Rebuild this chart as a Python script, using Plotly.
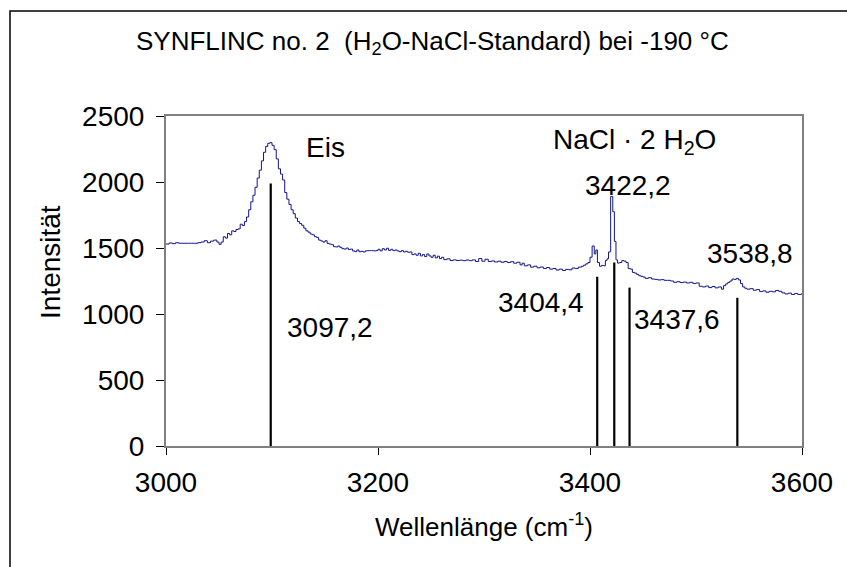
import plotly.graph_objects as go

# Spectrum (wavenumber cm^-1, intensity)
wavenumber = [3000, 3003, 3006, 3009, 3012, 3015, 3018, 3021, 3024, 3027, 3030, 3033,
              3036, 3039, 3042, 3045, 3048, 3050, 3052, 3054, 3056, 3058, 3060, 3062, 3064,
              3066, 3068, 3070, 3072, 3074, 3076, 3078, 3080, 3082, 3084, 3086, 3088, 3090,
              3092, 3094, 3096, 3098, 3100, 3102, 3104, 3106, 3108, 3110, 3112, 3114, 3116,
              3118, 3120, 3122, 3124, 3126, 3128, 3130, 3132, 3134, 3136, 3138, 3140, 3142,
              3144, 3146, 3148, 3150, 3152, 3154, 3156, 3158, 3160, 3162, 3164, 3166, 3168,
              3170, 3172, 3174, 3176, 3178, 3180, 3182, 3184, 3186, 3188, 3190, 3192, 3194,
              3196, 3198, 3200, 3202, 3204, 3206, 3208, 3210, 3212, 3214, 3216, 3218, 3220,
              3222, 3224, 3226, 3228, 3230, 3232, 3234, 3236, 3238, 3240, 3242, 3244, 3246,
              3248, 3250, 3252, 3254, 3256, 3258, 3260, 3262, 3265, 3268, 3271, 3274, 3277,
              3280, 3283, 3286, 3289, 3292, 3295, 3298, 3301, 3304, 3307, 3310, 3313, 3316,
              3319, 3322, 3325, 3328, 3331, 3334, 3336, 3338, 3341, 3344, 3347, 3350, 3353,
              3356, 3359, 3362, 3365, 3368, 3371, 3374, 3377, 3380, 3383, 3386, 3389, 3392,
              3394, 3396, 3398, 3400, 3402, 3404, 3405.5, 3407, 3409, 3411, 3413, 3414.5,
              3416, 3417.5, 3419.5, 3421.5, 3423, 3424.5, 3426, 3428, 3430, 3432, 3434,
              3436, 3438, 3440, 3442, 3444, 3446, 3448, 3450, 3452, 3455, 3458, 3461, 3464,
              3467, 3470, 3473, 3476, 3479, 3482, 3485, 3488, 3491, 3494, 3497, 3500, 3503,
              3506, 3509, 3512, 3515, 3518, 3521, 3524, 3526, 3528, 3530, 3532, 3534, 3536,
              3538, 3540, 3542, 3544, 3546, 3548, 3551, 3554, 3557, 3560, 3563, 3566, 3569,
              3572, 3575, 3578, 3581, 3584, 3587, 3590, 3593, 3596, 3599, 3600]
intensity = [1530, 1538, 1533, 1540, 1536, 1536, 1536, 1536, 1536, 1536, 1540, 1545,
             1555, 1540, 1552, 1560, 1545, 1528, 1545, 1585, 1575, 1610, 1600, 1630, 1625,
             1640, 1645, 1680, 1670, 1700, 1735, 1790, 1850, 1900, 1960, 2030, 2090, 2160,
             2225, 2270, 2293, 2298, 2278, 2245, 2175, 2100, 2060, 2015, 1920, 1870, 1830,
             1790, 1760, 1727, 1700, 1685, 1672, 1650, 1630, 1620, 1606, 1600, 1586, 1580,
             1560, 1553, 1545, 1555, 1535, 1530, 1525, 1510, 1508, 1515, 1505, 1495, 1492,
             1500, 1488, 1492, 1478, 1472, 1485, 1472, 1475, 1470, 1478, 1480, 1480, 1480,
             1478, 1480, 1490, 1478, 1495, 1485, 1498, 1482, 1490, 1480, 1485, 1478, 1472,
             1480, 1470, 1475, 1468, 1470, 1450, 1455, 1445, 1460, 1440, 1450, 1435, 1455,
             1440, 1430, 1445, 1425, 1438, 1420, 1430, 1412, 1418, 1405, 1410, 1405, 1408,
             1404, 1409, 1404, 1410, 1398, 1420, 1400, 1415, 1398, 1402, 1394, 1400, 1392,
             1398, 1390, 1396, 1385, 1392, 1372, 1385, 1365, 1372, 1355, 1362, 1350, 1356,
             1345, 1352, 1340, 1345, 1333, 1340, 1330, 1338, 1335, 1348, 1345, 1355, 1362,
             1370, 1380, 1390, 1430, 1515, 1455, 1485, 1390, 1362, 1368, 1365, 1405,
             1418, 1470, 1890, 1775, 1550, 1410, 1386, 1390, 1405, 1400, 1390,
             1345, 1340, 1315, 1310, 1300, 1290, 1285, 1280, 1270, 1275, 1265, 1262, 1258,
             1260, 1255, 1255, 1250, 1240, 1245, 1238, 1242, 1235, 1240, 1232, 1235, 1210,
             1205, 1212, 1200, 1208, 1198, 1205, 1188, 1215, 1228, 1240, 1250, 1265, 1262,
             1270, 1258, 1230, 1205, 1195, 1188, 1192, 1180, 1185, 1170, 1175, 1165, 1172,
             1168, 1178, 1172, 1160, 1152, 1158, 1148, 1155, 1148, 1152, 1150]

# Marked peaks: stick positions and heights as drawn, with their labels
peak_pos = [3098.8, 3406.8, 3422.9, 3437.3, 3539.0]
peak_height = [1988, 1282, 1390, 1200, 1123]
peak_labels = ["3097,2", "3404,4", "3422,2", "3437,6", "3538,8"]
label_x = [3155, 3354, 3436, 3482, 3551]
label_y = [900, 1090, 1970, 955, 1460]

x_ticks = [3000, 3200, 3400, 3600]
y_ticks = [0, 500, 1000, 1500, 2000, 2500]

FONT = "Liberation Sans, Arial, sans-serif"

fig = go.Figure()
fig.add_trace(go.Scatter(x=wavenumber, y=intensity, mode="lines",
                         line=dict(color="#14148a", width=1, shape="hv"),
                         hoverinfo="skip", showlegend=False))

sx, sy = [], []
for p, h in zip(peak_pos, peak_height):
    sx += [p, p, None]
    sy += [0, h, None]
fig.add_trace(go.Scatter(x=sx, y=sy, mode="lines",
                         line=dict(color="black", width=2.2),
                         hoverinfo="skip", showlegend=False))

for t, lx, ly in zip(peak_labels, label_x, label_y):
    fig.add_annotation(x=lx, y=ly, text=t, showarrow=False, xanchor="center", yanchor="middle",
                       font=dict(size=28, color="black", family=FONT))
fig.add_annotation(x=3150, y=2265, text="Eis", showarrow=False, xanchor="center", yanchor="middle",
                   font=dict(size=28, color="black", family=FONT))
fig.add_annotation(x=3442, y=2305, text="NaCl · 2 H<sub>2</sub>O", showarrow=False,
                   xanchor="center", yanchor="middle",
                   font=dict(size=28, color="black", family=FONT))

W, H = 847, 567
L, R, T, B = 166, 802, 116, 446
pw, ph = R - L, B - T

def px2paper_x(p):
    return (p - L) / pw

def px2paper_y(p):
    return (B - p) / ph

# outer frame
fig.add_shape(type="rect", xref="paper", yref="paper",
              x0=px2paper_x(10), x1=px2paper_x(870), y0=px2paper_y(590), y1=px2paper_y(11),
              line=dict(color="black", width=1.5), fillcolor="rgba(0,0,0,0)", layer="below")

fig.add_annotation(xref="paper", yref="paper", x=px2paper_x(432), y=px2paper_y(42),
                   xanchor="center", yanchor="middle",
                   text="SYNFLINC no. 2  (H<sub>2</sub>O-NaCl-Standard) bei -190 °C",
                   showarrow=False, font=dict(size=26, color="black", family=FONT))

# axis titles
fig.add_annotation(xref="paper", yref="paper", x=px2paper_x(484), y=px2paper_y(525),
                   xanchor="center", yanchor="middle",
                   text="Wellenlänge (cm<sup>-1</sup>)", showarrow=False,
                   font=dict(size=26, color="black", family=FONT))
fig.add_annotation(xref="paper", yref="paper", x=px2paper_x(50), y=px2paper_y(262),
                   xanchor="center", yanchor="middle", textangle=-90,
                   text="Intensität", showarrow=False,
                   font=dict(size=28, color="black", family=FONT))

fig.update_layout(
    width=W, height=H,
    margin=dict(l=L, r=W - R, t=T, b=H - B),
    paper_bgcolor="white", plot_bgcolor="white",
    font=dict(family=FONT, color="black"),
    xaxis=dict(range=[3000, 3600], tickvals=x_ticks, ticktext=[str(v) for v in x_ticks],
               showgrid=False, zeroline=False, showline=True, linecolor="#808080",
               linewidth=2, mirror=True, ticks="outside", ticklen=7, tickcolor="black",
               tickfont=dict(size=28), ticklabelstandoff=3),
    yaxis=dict(range=[0, 2500], tickvals=y_ticks, ticktext=[str(v) for v in y_ticks],
               showgrid=False, zeroline=False, showline=True, linecolor="#808080",
               linewidth=2, mirror=True, ticks="outside", ticklen=8, tickcolor="black",
               tickfont=dict(size=28), ticklabelstandoff=6),
)

fig.write_html("out.html")
